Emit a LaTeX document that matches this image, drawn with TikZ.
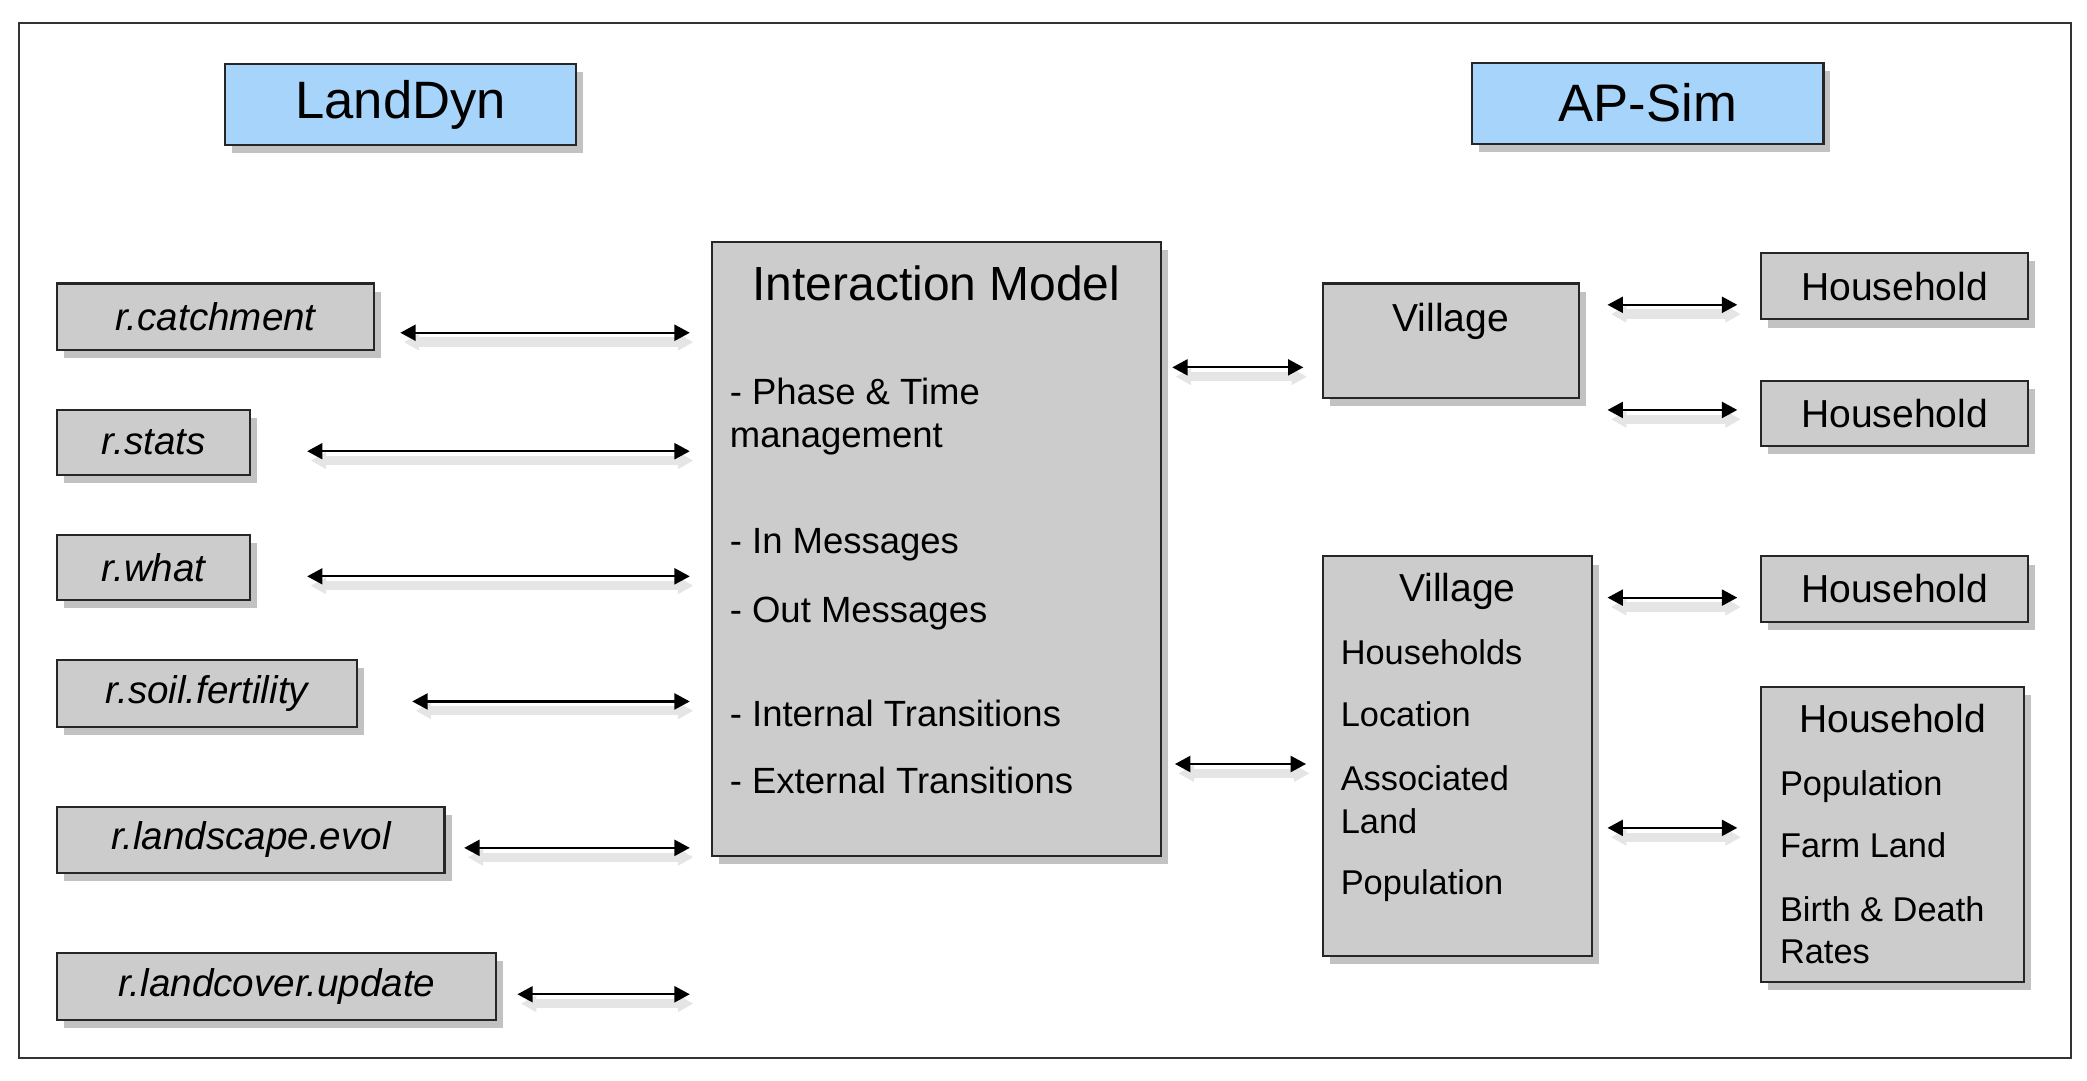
\documentclass[tikz,border=0pt]{standalone}
\usepackage{fontspec}
\setmainfont{Liberation Sans}
\usetikzlibrary{calc}
\usetikzlibrary{positioning}
\usetikzlibrary{shadows}
\usetikzlibrary{arrows.meta}
\definecolor{boxgray}{RGB}{204,204,204}
\definecolor{titleblue}{RGB}{166,212,250}
\tikzset{
    frame/.style={draw=black!80, line width=0.8pt},
    box/.style={
        draw=black!85,
        line width=0.9pt,
        fill=boxgray,
        inner sep=0pt,
        drop shadow={shadow xshift=3pt, shadow yshift=-3.5pt, fill=black!60, opacity=0.4},
    },
    titlebox/.style={box, fill=titleblue, minimum width=5.28cm, minimum height=1.22cm,
        font=\fontsize{22.5}{27}\selectfont},
    module/.style={box, minimum height=1cm, font=\fontsize{16.5}{20}\selectfont\itshape},
    unit/.style={box, minimum height=1cm, font=\fontsize{16.7}{20}\selectfont},
    head/.style={anchor=base, inner sep=0pt, font=\fontsize{16.7}{20}\selectfont},
    item/.style={anchor=base west, inner sep=0pt, font=\fontsize{14.7}{17}\selectfont},
    imitem/.style={anchor=base west, inner sep=0pt, font=\fontsize{15.6}{18}\selectfont},
    link/.style={
        {Triangle[length=2.3mm,width=2.4mm]}-{Triangle[length=2.3mm,width=2.4mm]},
        line width=0.9pt,
        preaction={draw=black!10, line width=4pt, transform canvas={xshift=1.5pt,yshift=-4pt}},
    },
}
\begin{document}
\begin{tikzpicture}[x=0.02cm, y=-0.02cm]
    \useasboundingbox (0,0) rectangle (1568,812);
    \draw[frame] (14,17) rectangle (1556,795);

    % the two models
    \node[titlebox] (landdyn) at (301,78.5) {LandDyn};
    \node[titlebox] (apsim) at (1238,77.5) {AP-Sim};

    % LandDyn modules
    \node[module, minimum width=4.76cm] (catch) at (162,238) {r.catchment};
    \node[module, minimum width=2.9cm, minimum height=0.98cm] (stats) at (115.5,332.5) {r.stats};
    \node[module, minimum width=2.9cm, minimum height=0.98cm] (what) at (115.5,426.5) {r.what};
    \node[module, minimum width=4.5cm] (soil) at (155.5,521) {r.soil.fertility};
    \node[module, minimum width=5.82cm] (evol) at (188.5,631) {r.landscape.evol};
    \node[module, minimum width=6.6cm] (cover) at (208,741) {r.landcover.update};

    % interaction model
    \node[box, minimum width=6.74cm, minimum height=9.22cm] (im) at (703.5,412.5) {};
    \node[head, font=\fontsize{20.5}{24}\selectfont] (imtitle) at (703.5,226) {Interaction Model};
    \node[imitem] (imphase) at (548,304) {- Phase \& Time};
    \node[imitem] (immanage) at (548,336) {management};
    \node[imitem] (imin) at (548,416) {- In Messages};
    \node[imitem] (imout) at (548,468) {- Out Messages};
    \node[imitem] (imint) at (548,546) {- Internal Transitions};
    \node[imitem] (imext) at (548,596) {- External Transitions};

    % AP-Sim side
    \node[box, minimum width=3.84cm, minimum height=1.72cm] (vil1) at (1090,256) {};
    \node[head] (vil1title) at (1090,249) {Village};
    \node[box, minimum width=4.04cm, minimum height=6cm] (vil2) at (1095,568) {};
    \node[head] (vil2title) at (1095,452) {Village};
    \node[item] (vil2hh) at (1007,499) {Households};
    \node[item] (vil2loc) at (1007,546) {Location};
    \node[item] (vil2assoc) at (1007,594) {Associated};
    \node[item] (vil2land) at (1007,626) {Land};
    \node[item] (vil2pop) at (1007,672) {Population};

    \node[unit, minimum width=4.02cm] (hh1) at (1423.5,215) {Household};
    \node[unit, minimum width=4.02cm, minimum height=0.98cm] (hh2) at (1423.5,310.5) {Household};
    \node[unit, minimum width=4.02cm, minimum height=0.98cm] (hh3) at (1423.5,442.5) {Household};
    \node[box, minimum width=3.96cm, minimum height=4.44cm] (hh4) at (1422,627) {};
    \node[head] (hh4title) at (1422,550) {Household};
    \node[item] (hh4pop) at (1337,598) {Population};
    \node[item] (hh4farm) at (1337,644) {Farm Land};
    \node[item] (hh4birth) at (1337,692) {Birth \& Death};
    \node[item] (hh4rates) at (1337,724) {Rates};

    % connectors
    \foreach \n/\gap/\dy in {catch/19/12, stats/42/6.5, what/42/6.5, soil/41/6, evol/14/6, cover/15/6}
        \draw[link] ($(\n.east)+(\gap,\dy)$) -- ($(im.west |- \n.east)+(-16,\dy)$);
    \foreach \a/\b/\ga/\gb/\dy in {im/vil1/8/14/20, im/vil2/10/12/6, vil1/hh1/21/17/14,
        vil1/hh2/21/17/-2.5, vil2/hh3/11/17/6.5, vil2/hh4/11/17/-5}
        \draw[link] ($(\a.east |- \b.west)+(\ga,\dy)$) -- ($(\b.west)+(-\gb,\dy)$);
\end{tikzpicture}
\end{document}
